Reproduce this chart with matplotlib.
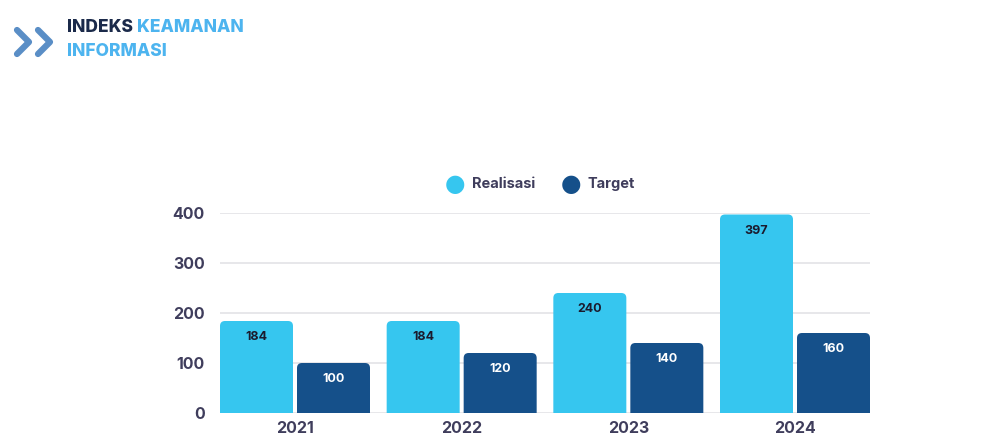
import matplotlib.pyplot as plt
from matplotlib.patches import FancyBboxPatch
from matplotlib.lines import Line2D

plt.rcParams['font.family'] = ['Inter', 'DejaVu Sans']

years = ['2021', '2022', '2023', '2024']
realisasi = [184, 184, 240, 397]
target = [100, 120, 140, 160]
series_names = ['Realisasi', 'Target']

C_REAL = '#36c6ef'
C_TARGET = '#15508a'
C_TEXT = '#3f3d5c'

W, H = 1004, 440
fig = plt.figure(figsize=(W / 100, H / 100), dpi=100)
ax = fig.add_axes([220/W, 27/H, 650/W, 200/H])

x = list(range(len(years)))
w = 0.438
off = 0.231

b1 = ax.bar([i - off for i in x], realisasi, width=w, color=C_REAL, zorder=3)
b2 = ax.bar([i + off for i in x], target, width=w, color=C_TARGET, zorder=3)

# swap plain bars for rounded ones
aspect = 333
for bars in (b1, b2):
    for p in bars:
        fb = FancyBboxPatch((p.get_x(), -12), p.get_width(), p.get_height() + 12,
                            boxstyle="round,pad=0,rounding_size=0.03",
                            mutation_aspect=aspect, fc=p.get_facecolor(),
                            ec='none', zorder=3)
        ax.add_patch(fb)
        p.set_visible(False)

for i in x:
    ax.text(i - off, realisasi[i] - 32, str(realisasi[i]), ha='center', va='center',
            fontsize=9, fontweight='bold', color='#1b1b2e', zorder=4)
    ax.text(i + off, target[i] - 32, str(target[i]), ha='center', va='center',
            fontsize=9, fontweight='bold', color='white', zorder=4)

ax.set_xlim(-0.45, 3.45)
ax.set_ylim(0, 400)
ax.set_yticks([0, 100, 200, 300, 400])
ax.set_xticks(x)
ax.set_xticklabels(years)
ax.tick_params(length=0, labelsize=11.5, labelcolor=C_TEXT)
ax.tick_params(axis='y', pad=11)
ax.tick_params(axis='x', pad=6)
for lb in ax.get_xticklabels() + ax.get_yticklabels():
    lb.set_fontweight('bold')
ax.grid(axis='y', color='#e3e3e6', linewidth=1.2, zorder=0)
for s in ax.spines.values():
    s.set_visible(False)

# legend
ly = 1 - 184/H
for cx, tx, col, name in [(455, 472, C_REAL, series_names[0]),
                          (571, 588, C_TARGET, series_names[1])]:
    fig.text(cx/W, ly, '\u25cf', color=col, fontsize=17, ha='center', va='center',
             family='DejaVu Sans')
    fig.text(tx/W, ly, name, color=C_TEXT, fontsize=10.5,
             fontweight='bold', ha='left', va='center')

# header chevrons
for x0 in (17, 38):
    fig.add_artist(Line2D([x0/W, (x0 + 12)/W, x0/W],
                          [1 - 30/H, 1 - 42/H, 1 - 54/H],
                          color='#5a8ec6', lw=4.5, solid_capstyle='round',
                          solid_joinstyle='round'))
t1 = fig.text(67/W, 1 - 27/H, 'INDEKS ', color='#1b2a4a', fontsize=12.5,
              fontweight='heavy', ha='left', va='center')
fig.canvas.draw()
bb = t1.get_window_extent()
fig.text(bb.x1 / W, 1 - 27/H, 'KEAMANAN', color='#4db4ef', fontsize=12.5,
         fontweight='heavy', ha='left', va='center')
fig.text(67/W, 1 - 52/H, 'INFORMASI', color='#4db4ef', fontsize=12.5,
         fontweight='heavy', ha='left', va='center')

fig.savefig('out.png', dpi=100)
